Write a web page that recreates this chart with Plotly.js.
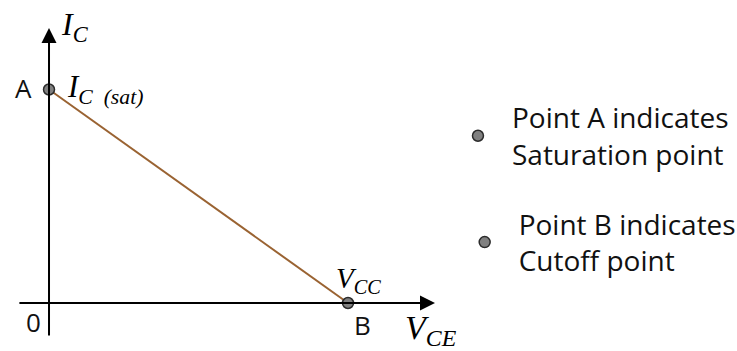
<!DOCTYPE html>
<html>
<head>
<meta charset="utf-8">
<script src="https://cdn.plot.ly/plotly-3.0.1.min.js"></script>
<style>html,body{margin:0;padding:0;background:#fff;}#chart{width:737px;height:351px;}</style>
</head>
<body>
<div id="chart"></div>
<script>
// ---- data (symbolic load line, arbitrary units) ----
const VCC = 10;          // cutoff point on V_CE axis
const IC_SAT = 10;       // saturation current on I_C axis
const loadLineVce = [0, VCC];
const loadLineIc = [IC_SAT, 0];
const pointNames = ["Point A indicates<br>Saturation point", "Point B indicates<br>Cutoff point"];
const pointLetters = ["A", "B"];
const axisExtentX = [-1.04, 12.91];   // horizontal axis line (V_CE)
const axisExtentY = [-1.59, 12.88];   // vertical axis line (I_C)

const brown = "#9A6332";
const dotMarker = {size: 11, color: "#808080", line: {color: "#2b2b2b", width: 1.5}};

const traces = [
  {x: loadLineVce, y: loadLineIc, mode: "lines", line: {color: brown, width: 2}, showlegend: false, hoverinfo: "skip"},
  {x: [loadLineVce[0]], y: [loadLineIc[0]], mode: "markers", marker: dotMarker, name: pointNames[0], legend: "legend"},
  {x: [loadLineVce[1]], y: [loadLineIc[1]], mode: "markers", marker: dotMarker, name: pointNames[1], legend: "legend2"}
];

const serif = {family: "Liberation Serif, serif", color: "#000", style: "italic"};
const sans = {family: "Open Sans, sans-serif", color: "#111", size: 26};

function arrow(x, y, ax, ay) {
  return {x: x, y: y, ax: ax, ay: ay, xref: "x", yref: "y", axref: "x", ayref: "y", text: "",
          showarrow: true, arrowhead: 2, arrowsize: 1.5, arrowwidth: 2, arrowcolor: "#000", standoff: 0, startstandoff: 0};
}
function label(text, x, y, font, opts) {
  return Object.assign({x: x, y: y, xref: "x", yref: "y", text: text, showarrow: false, font: font}, opts);
}

const annotations = [
  arrow(axisExtentX[1], 0, axisExtentX[0], 0),
  arrow(0, axisExtentY[1], 0, axisExtentY[0]),
  label(pointLetters[0], 0, IC_SAT, sans, {xanchor: "right", xshift: -15, yshift: 2}),
  label(pointLetters[1], VCC, 0, sans, {xshift: 14, yshift: -22}),
  label("0", 0, 0, sans, {xshift: -16, yshift: -19}),
  label("I<sub>C&nbsp;&nbsp;(sat)</sub>", 0, IC_SAT, Object.assign({size: 31}, serif), {xanchor: "left", xshift: 16, yshift: 1}),
  label("V<sub>CC</sub>", VCC, 0, Object.assign({size: 29}, serif), {xshift: 10, yshift: 23}),
  label("I<sub>C</sub>", 0, axisExtentY[1], Object.assign({size: 32}, serif), {xanchor: "left", xshift: 10, yshift: 2}),
  label("V<sub>CE</sub>", axisExtentX[1], 0, Object.assign({size: 34}, serif), {xshift: -4, yshift: -27})
];

const legendFont = {family: "Open Sans, sans-serif", size: 28, color: "#111"};
const layout = {
  width: 737, height: 351,
  margin: {l: 0, r: 0, t: 0, b: 0, autoexpand: false},
  paper_bgcolor: "#fff", plot_bgcolor: "#fff",
  xaxis: {range: [-1.639, 23.01], visible: false, fixedrange: true},
  yaxis: {range: [-2.248, 14.192], visible: false, fixedrange: true},
  showlegend: true,
  legend: {x: 0.6024, y: 0.613, xanchor: "left", yanchor: "middle", font: legendFont, bgcolor: "rgba(0,0,0,0)", itemwidth: 58},
  legend2: {x: 0.6115, y: 0.31, xanchor: "left", yanchor: "middle", font: legendFont, bgcolor: "rgba(0,0,0,0)", itemwidth: 58},
  annotations: annotations
};

Plotly.newPlot("chart", traces, layout, {staticPlot: true, displayModeBar: false});
</script>
</body>
</html>
